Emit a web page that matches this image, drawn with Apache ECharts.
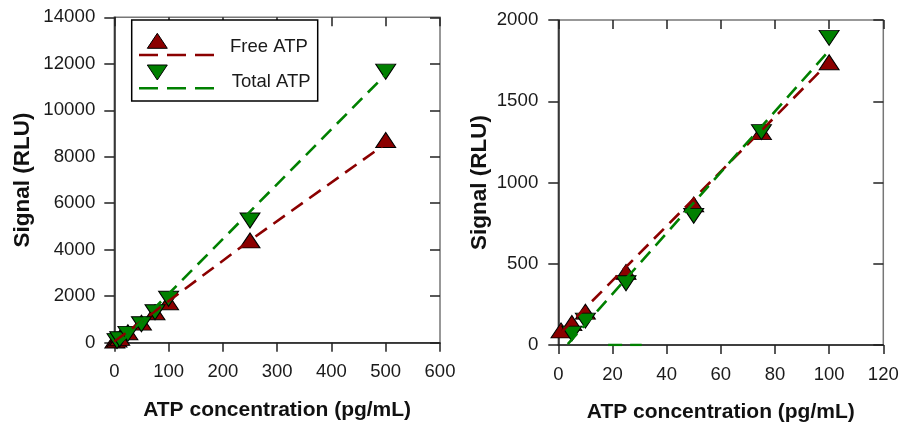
<!DOCTYPE html>
<html>
<head>
<meta charset="utf-8">
<script src="https://cdn.jsdelivr.net/npm/echarts@6/dist/echarts.min.js"></script>
<style>
html,body{margin:0;padding:0;background:#fff;}
#chart{width:902px;height:428px;}
</style>
</head>
<body>
<div id="chart"></div>
<script>
// ---- data ----
var conc = [1, 5, 10, 25, 50, 75, 100, 250, 500];
var freeATP = [90, 135, 205, 450, 865, 1310, 1740, 4400, 8720];
var totalATP = [null, 70, 150, 380, 795, 1310, 1890, 5260, 11660];
// fitted trend lines
var freeFitLeft = [[0, 50], [250, 4400], [500, 8560]];
var totalFitLeft = [[11, 0], [500, 11541]];
var freeFitRight = [[1, 77], [100, 1740]];
var totalFitRight = [[3.5, 5], [100, 1812]];
var strayRight = [[18.4, 0], [30.8, 0]];
var xTicksLeft = [0, 100, 200, 300, 400, 500, 600];
var yTicksLeft = [0, 2000, 4000, 6000, 8000, 10000, 12000, 14000];
var xTicksRight = [0, 20, 40, 60, 80, 100, 120];
var yTicksRight = [0, 500, 1000, 1500, 2000];
var seriesNames = ['Free ATP', 'Total ATP'];
var xTitle = 'ATP concentration (pg/mL)';
var yTitle = 'Signal (RLU)';

// ---- build ----
var RED = '#8b0000', GREEN = '#008000';
var FONT = '"Liberation Sans", Arial, sans-serif';
function pairs(xs, ys, xmax) {
  var out = [];
  for (var i = 0; i < xs.length; i++) {
    if (ys[i] == null) continue;
    if (xmax != null && xs[i] > xmax) continue;
    out.push([xs[i], ys[i]]);
  }
  return out;
}
function range(t) { return {min: t[0], max: t[t.length - 1], interval: t[1] - t[0]}; }
function plain(v) { return String(v); }

function xAxisMain(grid, ticks) {
  var r = range(ticks);
  return {
    type: 'value', gridIndex: grid, min: r.min, max: r.max, interval: r.interval,
    splitLine: {show: false},
    axisLine: {show: true, onZero: false, lineStyle: {color: '#222', width: 1.5}},
    axisTick: {show: true, inside: false, length: 9, lineStyle: {color: '#222', width: 1.5}},
    axisLabel: {fontSize: 18.5, color: '#1a1a1a', fontFamily: FONT, margin: 20, formatter: plain},
    name: xTitle, nameLocation: 'middle', nameGap: 57, nameMoveOverlap: false,
    nameTextStyle: {fontSize: 21, fontWeight: 'bold', color: '#111', fontFamily: FONT}
  };
}
function xAxisDup(grid, ticks) {
  var r = range(ticks);
  return {
    type: 'value', gridIndex: grid, min: r.min, max: r.max, interval: r.interval,
    splitLine: {show: false}, axisLine: {show: false, onZero: false},
    axisTick: {show: true, inside: true, length: 9, lineStyle: {color: '#222', width: 1.5}},
    axisLabel: {show: false}
  };
}
function yAxisMain(grid, ticks, margin, gap) {
  var r = range(ticks);
  return {
    type: 'value', gridIndex: grid, min: r.min, max: r.max, interval: r.interval,
    splitLine: {show: false},
    axisLine: {show: true, onZero: false, lineStyle: {color: '#222', width: 1.5}},
    axisTick: {show: true, inside: false, length: 10, lineStyle: {color: '#222', width: 1.5}},
    axisLabel: {fontSize: 18.7, color: '#1a1a1a', fontFamily: FONT, margin: margin, formatter: plain},
    name: yTitle, nameLocation: 'middle', nameGap: gap, nameMoveOverlap: false,
    nameTextStyle: {fontSize: 22.5, fontWeight: 'bold', color: '#111', fontFamily: FONT}
  };
}
function yAxisDup(grid, ticks) {
  var r = range(ticks);
  return {
    type: 'value', gridIndex: grid, min: r.min, max: r.max, interval: r.interval,
    splitLine: {show: false}, axisLine: {show: false, onZero: false},
    axisTick: {show: true, inside: true, length: 10, lineStyle: {color: '#222', width: 1.5}},
    axisLabel: {show: false}
  };
}
function scatter(name, data, xi, yi, color, rot) {
  return {
    name: name, type: 'scatter', xAxisIndex: xi, yAxisIndex: yi, data: data,
    symbol: 'triangle', symbolSize: [20, 15], symbolRotate: rot,
    itemStyle: {color: color, borderColor: '#000', borderWidth: 1, opacity: 1}, z: 3
  };
}
function fitLine(data, xi, yi, color) {
  return {
    type: 'line', xAxisIndex: xi, yAxisIndex: yi, data: data, showSymbol: false, symbol: 'none',
    clip: true, silent: true,
    lineStyle: {color: color, width: 2.6, type: [14, 8]}, z: 4
  };
}

var option = {
  backgroundColor: '#fff',
  animation: false,
  grid: [
    {left: 114.3, top: 17.3, width: 325.7, height: 325.4, show: true, borderColor: '#777', borderWidth: 1.5, backgroundColor: 'transparent'},
    {left: 558.3, top: 20, width: 325, height: 325, show: true, borderColor: '#777', borderWidth: 1.5, backgroundColor: 'transparent'}
  ],
  xAxis: [xAxisMain(0, xTicksLeft), xAxisDup(0, xTicksLeft), xAxisMain(1, xTicksRight), xAxisDup(1, xTicksRight)],
  yAxis: [yAxisMain(0, yTicksLeft, 19, 80), yAxisDup(0, yTicksLeft), yAxisMain(1, yTicksRight, 20, 67), yAxisDup(1, yTicksRight)],
  series: [
    scatter(seriesNames[0], pairs(conc, freeATP), 0, 0, RED, 0),
    scatter(seriesNames[1], pairs(conc, totalATP), 0, 0, GREEN, 180),
    fitLine(freeFitLeft, 0, 0, RED),
    fitLine(totalFitLeft, 0, 0, GREEN),
    scatter(seriesNames[0], pairs(conc, freeATP, 120), 2, 2, RED, 0),
    scatter(seriesNames[1], pairs(conc, totalATP, 120), 2, 2, GREEN, 180),
    fitLine(freeFitRight, 2, 2, RED),
    fitLine(totalFitRight, 2, 2, GREEN),
    fitLine(strayRight, 2, 2, GREEN)
  ],
  graphic: [
    {type: 'rect', shape: {x: 131.7, y: 20, width: 186, height: 81}, style: {fill: '#fff', stroke: '#000', lineWidth: 1.5}, z: 10},
    {type: 'polygon', shape: {points: [[147.3, 48.3], [167.3, 48.3], [157.3, 33.3]]}, style: {fill: RED, stroke: '#000', lineWidth: 1}, z: 11},
    {type: 'line', shape: {x1: 139, y1: 55, x2: 216, y2: 55}, style: {stroke: RED, lineWidth: 2.6, lineDash: [19, 9]}, z: 11},
    {type: 'text', x: 230, y: 47.3, style: {text: seriesNames[0], font: '18.5px ' + FONT, fill: '#1a1a1a', verticalAlign: 'middle', align: 'left'}, z: 11},
    {type: 'polygon', shape: {points: [[147.3, 65], [167.3, 65], [157.3, 80]]}, style: {fill: GREEN, stroke: '#000', lineWidth: 1}, z: 11},
    {type: 'line', shape: {x1: 139, y1: 88.3, x2: 216, y2: 88.3}, style: {stroke: GREEN, lineWidth: 2.6, lineDash: [19, 9]}, z: 11},
    {type: 'text', x: 231.7, y: 81.7, style: {text: seriesNames[1], font: '18.5px ' + FONT, fill: '#1a1a1a', verticalAlign: 'middle', align: 'left'}, z: 11}
  ]
};
var chart = echarts.init(document.getElementById('chart'), null, {renderer: 'canvas'});
chart.setOption(option);
</script>
</body>
</html>
